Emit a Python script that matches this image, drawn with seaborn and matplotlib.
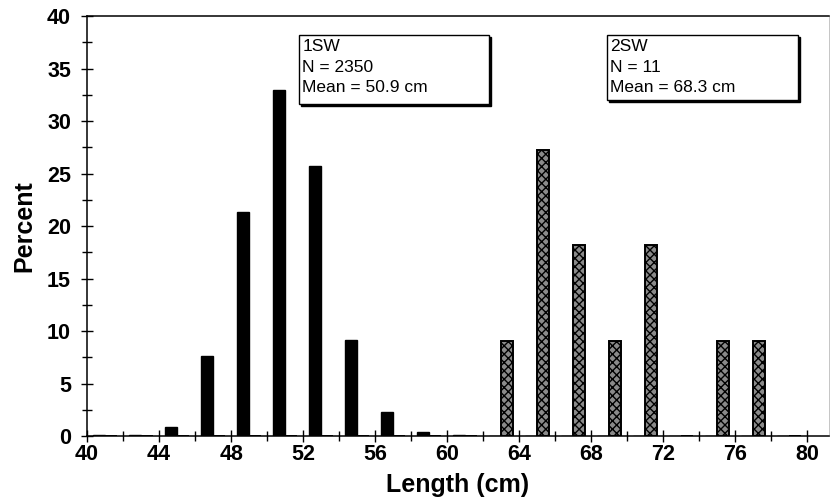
import matplotlib
matplotlib.use('Agg')
import matplotlib.pyplot as plt
import matplotlib.patches as mpatches
import matplotlib.transforms as mtransforms
import seaborn as sns
import pandas as pd
import numpy as np

# 2 cm length bins (left edge) and percent per sea-age group
bins = [40, 42, 44, 46, 48, 50, 52, 54, 56, 58, 60, 62, 64, 66, 68, 70, 72, 74, 76, 78]
pct_1sw = [0.05, 0.1, 0.9, 7.6, 21.3, 33.0, 25.7, 9.1, 2.3, 0.4, 0.1,
           0, 0, 0, 0, 0, 0, 0, 0, 0]
pct_2sw = [0, 0, 0, 0, 0, 0, 0, 0, 0, 0, 0,
           9.09, 27.27, 18.18, 9.09, 18.18, 0, 9.09, 9.09, 0]
groups = ['1SW', '2SW']
box_text = ['1SW\nN = 2350\nMean = 50.9 cm', '2SW\nN = 11\nMean = 68.3 cm']
xtick_labels = [40, 44, 48, 52, 56, 60, 64, 68, 72, 76, 80]

df = pd.DataFrame({
    'bin': [str(b) for b in bins] * 2,
    'pct': pct_1sw + pct_2sw,
    'group': [groups[0]] * len(bins) + [groups[1]] * len(bins),
})

sns.set_style('ticks')
plt.rcParams['font.family'] = ['Liberation Sans', 'DejaVu Sans']
plt.rcParams['text.color'] = 'black'
plt.rcParams['axes.labelcolor'] = 'black'

fig = plt.figure(figsize=(8.33, 5.01), dpi=100)
ax = fig.add_axes([0.1045, 0.1297, 0.8905, 0.8383])

sns.barplot(data=df, x='bin', y='pct', hue='group', order=[str(b) for b in bins],
            hue_order=groups, palette=['black', '#8a8a8a'], width=0.667,
            edgecolor='black', linewidth=1.0, legend=False, ax=ax)

n = len(bins)
for i, p in enumerate(ax.patches[:2 * n]):
    if i >= n:
        p.set_hatch('xxxx')
        p.set_linewidth(1.4)

# axis ticks: category boundaries are the 2 cm bin edges
ax.set_xlim(-0.5, 20.1)
ax.set_xticks(np.arange(-0.5, n + 0.5, 2))
ax.set_xticklabels([str(v) for v in xtick_labels])
ax.set_xticks(np.arange(0.5, n, 2), minor=True)
ax.set_ylim(0, 40)
ax.set_yticks(np.arange(0, 41, 5))
ax.set_yticks(np.arange(2.5, 40, 5), minor=True)
ax.tick_params(which='both', direction='inout', length=9, width=1.0,
               labelsize=15.5, colors='black')
ax.tick_params(axis='x', which='major', pad=1)
ax.tick_params(axis='y', which='major', pad=7)
ax.tick_params(which='minor', length=7)
for lab in ax.get_xticklabels() + ax.get_yticklabels():
    lab.set_fontweight('bold')

ax.set_xlabel('Length (cm)', fontsize=18, fontweight='bold', labelpad=6)
ax.set_ylabel('Percent', fontsize=18, fontweight='bold', labelpad=8)

for s in ['left', 'bottom', 'top']:
    ax.spines[s].set_color('black')
    ax.spines[s].set_linewidth(1.1)
ax.spines['right'].set_color('#bbbbbb')
ax.spines['right'].set_linewidth(0.6)

# annotation boxes with a drop shadow
shadow = mtransforms.offset_copy(ax.transAxes, fig=fig, x=2, y=-2, units='dots')
for (x0, y0, w, h), txt in zip([(0.286, 0.790, 0.256, 0.165), (0.701, 0.800, 0.258, 0.155)], box_text):
    ax.add_patch(mpatches.Rectangle((x0, y0), w, h, transform=shadow, facecolor='black',
                                    edgecolor='black', zorder=5, clip_on=False))
    ax.add_patch(mpatches.Rectangle((x0, y0), w, h, transform=ax.transAxes, facecolor='white',
                                    edgecolor='black', linewidth=1.0, zorder=6, clip_on=False))
    ax.text(x0 + 0.004, y0 + h - 0.010, txt, transform=ax.transAxes, fontsize=12.5,
            va='top', ha='left', linespacing=1.45, zorder=7)

fig.savefig('out.png', dpi=100)
